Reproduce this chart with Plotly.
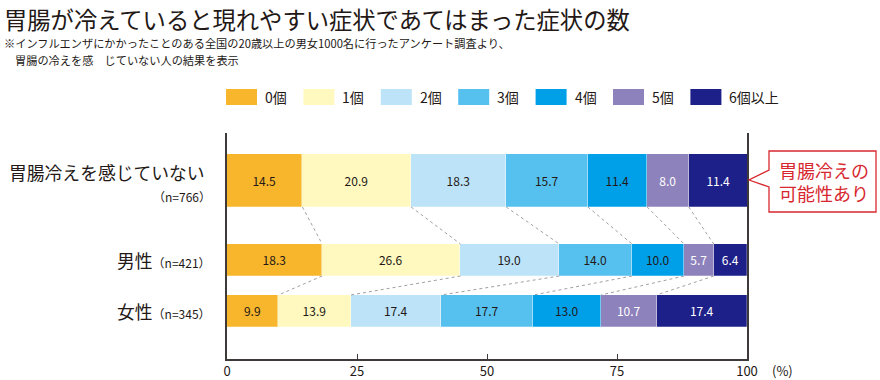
import plotly.graph_objects as go
import numpy as np

# ---------------- data ----------------
categories = ["胃腸冷えを感じていない", "男性", "女性"]
sample_sizes = ["（n=766）", "（n=421）", "（n=345）"]
series_names = ["0個", "1個", "2個", "3個", "4個", "5個", "6個以上"]
v0 = [14.5, 18.3, 9.9]
v1 = [20.9, 26.6, 13.9]
v2 = [18.3, 19.0, 17.4]
v3 = [15.7, 14.0, 17.7]
v4 = [11.4, 10.0, 13.0]
v5 = [8.0, 5.7, 10.7]
v6 = [11.4, 6.4, 17.4]
tick_values = [0, 25, 50, 75, 100]
tick_labels = ["0", "25", "50", "75", "100"]

title_text = "胃腸が冷えていると現れやすい症状であてはまった症状の数"
note_line1 = "※インフルエンザにかかったことのある全国の20歳以上の男女1000名に行ったアンケート調査より、"
note_line2 = "胃腸の冷えを感　じていない人の結果を表示"
callout_text = "胃腸冷えの<br>可能性あり"

# ---------------- style ----------------
colors = ["#F8B62D", "#FFF9C0", "#BDE3F9", "#56C1EF", "#00A0E9", "#8E82BC", "#1D2088"]
text_colors = ["#231815"] * 5 + ["#FFFFFF", "#FFFFFF"]
FONT = "Noto Sans CJK JP, Noto Sans, sans-serif"
DARK = "#231815"
AX = "#3E3A39"

W, H = 880, 380
L, R, T, B = 227, 747, 133, 359  # plot area in pixels

row_pos = [47.5, 127.0, 178.0]   # row centres (axis units = px below plot top)
row_width = [53, 32, 32]


def px(x):
    return (x - L) / (R - L)


def py(y):
    return (B - y) / (B - T)


series = [v0, v1, v2, v3, v4, v5, v6]

fig = go.Figure()

for name, vals, col, tcol in zip(series_names, series, colors, text_colors):
    fig.add_trace(go.Bar(
        x=vals, y=row_pos, width=row_width, orientation="h", name=name,
        marker=dict(color=col, line=dict(color="rgba(255,255,255,0.5)", width=0.5)),
        text=[f"{v:.1f}" for v in vals], textposition="inside",
        insidetextanchor="middle", textangle=0,
        textfont=dict(family=FONT, size=12, color=tcol),
        showlegend=False, hoverinfo="skip",
    ))

# dotted connectors between cumulative boundaries of consecutive rows
cum = np.cumsum(np.array(series), axis=0)  # shape (7, 3)
for r in range(len(categories) - 1):
    y_from = row_pos[r] + row_width[r] / 2
    y_to = row_pos[r + 1] - row_width[r + 1] / 2
    for k in range(len(series) - 1):
        fig.add_trace(go.Scatter(
            x=[cum[k, r], cum[k, r + 1]], y=[y_from, y_to], mode="lines",
            line=dict(color="#A0A0A0", width=1, dash="dot"),
            showlegend=False, hoverinfo="skip",
        ))

annotations = []
shapes = []

# title & notes
annotations.append(dict(x=px(2), y=py(0), xref="paper", yref="paper", xanchor="left",
                        yanchor="top", text=title_text, showarrow=False,
                        font=dict(family=FONT, size=23.3, color=DARK)))
annotations.append(dict(x=px(2), y=py(43), xref="paper", yref="paper", xanchor="left",
                        yanchor="middle", text=note_line1, showarrow=False,
                        font=dict(family=FONT, size=11.2, color=DARK)))
annotations.append(dict(x=px(13), y=py(60), xref="paper", yref="paper", xanchor="left",
                        yanchor="middle", text=note_line2, showarrow=False,
                        font=dict(family=FONT, size=11.2, color=DARK)))

# category labels
annotations.append(dict(x=px(207), y=py(172), xref="paper", yref="paper", xanchor="right",
                        yanchor="middle", text=categories[0], showarrow=False,
                        font=dict(family=FONT, size=17.8, color=DARK)))
annotations.append(dict(x=px(213), y=py(196), xref="paper", yref="paper", xanchor="right",
                        yanchor="middle", text=sample_sizes[0], showarrow=False,
                        font=dict(family=FONT, size=12, color=DARK)))
for i in (1, 2):
    yc = T + row_pos[i]
    annotations.append(dict(x=px(213), y=py(yc), xref="paper", yref="paper", xanchor="right",
                            yanchor="middle", showarrow=False,
                            text=f"{categories[i]}<span style='font-size:12px'>{sample_sizes[i]}</span>",
                            font=dict(family=FONT, size=17.8, color=DARK)))

# legend (custom swatches)
for i, (name, col) in enumerate(zip(series_names, colors)):
    x0 = 226 + 77.4 * i
    shapes.append(dict(type="rect", xref="paper", yref="paper",
                       x0=px(x0), x1=px(x0 + 31), y0=py(105), y1=py(89),
                       fillcolor=col, line=dict(width=0)))
    annotations.append(dict(x=px(x0 + 37), y=py(97), xref="paper", yref="paper",
                            xanchor="left", yanchor="middle", text=name, showarrow=False,
                            font=dict(family=FONT, size=14, color=DARK)))

# (%) label
annotations.append(dict(x=px(770), y=py(370), xref="paper", yref="paper", xanchor="left",
                        yanchor="middle", text="(%)", showarrow=False,
                        font=dict(family=FONT, size=13, color=DARK)))

# callout
cx0, cx1, cy0, cy1 = 769, 876, 151, 212
pts = [(cx0, cy0), (cx1, cy0), (cx1, cy1), (cx0, cy1), (cx0, 187), (749, 180), (cx0, 170)]
path = "M " + " L ".join(f"{px(a):.5f},{py(b):.5f}" for a, b in pts) + " Z"
shapes.append(dict(type="path", xref="paper", yref="paper", path=path,
                   fillcolor="white", line=dict(color="#D7282F", width=1.3)))
annotations.append(dict(x=px((cx0 + cx1) / 2 + 1), y=py(181), xref="paper", yref="paper",
                        xanchor="center", yanchor="middle", text=callout_text, showarrow=False,
                        font=dict(family=FONT, size=18, color="#D7282F")))

fig.update_layout(
    width=W, height=H, autosize=False,
    margin=dict(l=L, r=W - R, t=T, b=H - B, pad=0, autoexpand=False),
    barmode="stack", bargap=0,
    plot_bgcolor="white", paper_bgcolor="white",
    font=dict(family=FONT, color=DARK),
    showlegend=False,
    annotations=annotations, shapes=shapes,
    xaxis=dict(range=[0, 100], tickvals=tick_values, ticktext=tick_labels,
               ticks="inside", ticklen=5, tickcolor=AX, tickwidth=1,
               showline=True, linecolor=AX, linewidth=1.5, mirror=False,
               showgrid=False, zeroline=False, automargin=False,
               tickfont=dict(family=FONT, size=13, color=DARK), fixedrange=True),
    yaxis=dict(range=[B - T, 0], showline=True, linecolor=AX, linewidth=1.5, mirror=True,
               showticklabels=False, ticks="", showgrid=False, zeroline=False,
               automargin=False, fixedrange=True),
)

fig.write_html("out.html", config={"displayModeBar": False},
               post_script="document.body.style.margin='0';document.body.style.overflow='hidden';")
